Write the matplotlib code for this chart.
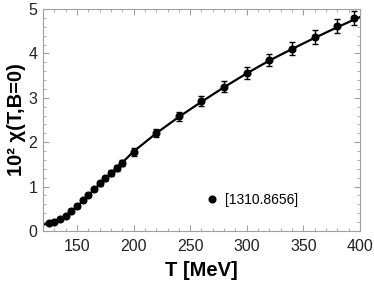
import matplotlib
matplotlib.use("Agg")
import matplotlib.pyplot as plt
from matplotlib.ticker import MultipleLocator
from matplotlib.lines import Line2D

plt.rcParams['font.family'] = ['Liberation Sans', 'DejaVu Sans']

# lattice data points
T = [125, 130, 135, 140, 145, 150, 155, 160, 165, 170, 175, 180, 185, 190,
     200, 220, 240, 260, 280, 300, 320, 340, 360, 380, 395]
chi = [0.17, 0.21, 0.27, 0.34, 0.45, 0.56, 0.69, 0.81, 0.94, 1.07, 1.19,
       1.31, 1.42, 1.54, 1.78, 2.21, 2.58, 2.92, 3.25, 3.56, 3.85, 4.11,
       4.37, 4.61, 4.79]
err = [0.03, 0.03, 0.03, 0.03, 0.04, 0.04, 0.04, 0.05, 0.05, 0.05, 0.06,
       0.06, 0.06, 0.07, 0.08, 0.09, 0.10, 0.11, 0.12, 0.13, 0.14, 0.14,
       0.15, 0.16, 0.16]

# fit curve
T_fit = [120, 130, 140, 150, 160, 170, 180, 190, 200, 220, 240, 260, 280,
         300, 320, 340, 360, 380, 400]
chi_fit = [0.14, 0.21, 0.34, 0.55, 0.80, 1.06, 1.30, 1.54, 1.79, 2.20,
           2.57, 2.91, 3.24, 3.55, 3.84, 4.10, 4.35, 4.59, 4.82]

legend_label = "[1310.8656]"

fig = plt.figure(figsize=(3.74, 2.86), dpi=100)
ax = fig.add_axes([43/374, 1-231/286, 317/374, 222/286])

ax.plot(T_fit, chi_fit, color='black', lw=1.6, zorder=2)
ax.errorbar(T, chi, yerr=err, fmt='o', color='black', ms=4.8,
            elinewidth=1.0, capsize=2.2, capthick=1.0, zorder=3)

ax.set_xlim(120, 400)
ax.set_ylim(0, 5)
ax.xaxis.set_major_locator(MultipleLocator(50))
ax.xaxis.set_minor_locator(MultipleLocator(10))
ax.yaxis.set_major_locator(MultipleLocator(1))
ax.yaxis.set_minor_locator(MultipleLocator(0.2))

frame = '#a0a0a0'
for s in ax.spines.values():
    s.set_color(frame)
    s.set_linewidth(0.8)
ax.tick_params(which='both', direction='in', top=True, right=True,
               color=frame, labelcolor='#222222', labelsize=11.5)
ax.tick_params(which='major', length=4, width=0.8)
ax.tick_params(axis='x', which='major', pad=6)
ax.tick_params(axis='y', which='major', pad=4)
ax.tick_params(which='minor', length=2, width=0.6)

ax.set_xlabel('T [MeV]', fontsize=14.5, fontweight='bold', labelpad=5)
ax.set_ylabel('10² χ(T,B=0)', fontsize=14.5, fontweight='bold', labelpad=2)

handle = Line2D([], [], marker='o', ls='none', color='black', ms=4.8)
ax.legend([handle], [legend_label], loc='center left',
          bbox_to_anchor=(0.517, 0.14), frameon=False, fontsize=10,
          handlelength=0.8, handletextpad=0.5, borderpad=0, borderaxespad=0)

fig.savefig('out.png', dpi=100)
